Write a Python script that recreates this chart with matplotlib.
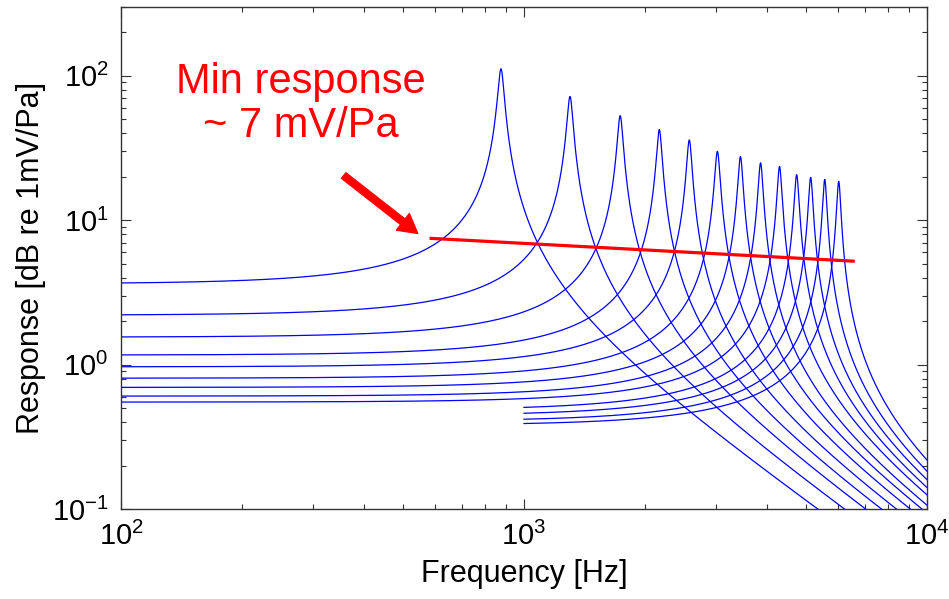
import numpy as np
import matplotlib
matplotlib.use('Agg')
import matplotlib.pyplot as plt

plt.rcParams['font.family'] = ['Liberation Sans', 'DejaVu Sans']
plt.rcParams['mathtext.fontset'] = 'custom'
plt.rcParams['mathtext.rm'] = 'Liberation Sans'
plt.rcParams['mathtext.it'] = 'Liberation Sans:italic'

# resonance frequency of each mode [Hz]
f_res = [877, 1301, 1733, 2167, 2572, 3020, 3445, 3865, 4307, 4750, 5146, 5576, 6040]
# flat low-frequency sensitivity [mV/Pa]
low_level = [3.63, 2.2, 1.55, 1.165, 0.965, 0.805, 0.695, 0.605, 0.55,
             0.483, 0.443, 0.405, 0.38]
# peak sensitivity [mV/Pa]
peak_level = [112, 72, 53, 42.5, 36, 30, 27.6, 25, 23.6, 20.7, 19.8, 19.2, 18.6]
# lowest frequency drawn for each curve [Hz]
f_start = [100] * 9 + [1000] * 4

# minimum response line
min_f = [583, 6620]
min_resp = [7.5, 5.2]

x_ticks = [1e2, 1e3, 1e4]
x_ticklabels = [r'$\mathregular{10^{2}}$', r'$\mathregular{10^{3}}$', r'$\mathregular{10^{4}}$']
y_ticks = [1e-1, 1e0, 1e1, 1e2]
y_ticklabels = [r'$\mathregular{10^{-1}}$', r'$\mathregular{10^{0}}$',
                r'$\mathregular{10^{1}}$', r'$\mathregular{10^{2}}$']

fig = plt.figure(figsize=(9.49, 5.99), dpi=100)
ax = fig.add_axes([0.1275, 0.1503, 0.8493, 0.838])

for f0, g, pk, fs in zip(f_res, low_level, peak_level, f_start):
    f = np.logspace(np.log10(fs), 4.05, 3000)
    r = f / f0
    q = pk / g
    h = g / np.sqrt((1 - r**2)**2 + (r / q)**2)
    ax.plot(f, h, color='#0000ff', linewidth=0.9)

ax.plot(min_f, min_resp, color='#ff0000', linewidth=2.3, solid_capstyle='butt')

ax.annotate('', xy=(545, 8.1), xytext=(357, 20.4),
            arrowprops=dict(arrowstyle='simple,head_length=0.85,head_width=0.95,tail_width=0.32',
                            color='#ff0000', mutation_scale=16, shrinkA=0, shrinkB=0))
ax.text(279, 64, 'Min response\n~ 7 mV/Pa', color='#ff0000', fontsize=30,
        ha='center', va='center', linespacing=1.15)

ax.set_xscale('log')
ax.set_yscale('log')
ax.set_xlim(1e2, 1e4)
ax.set_ylim(1e-1, 300)
ax.set_xticks(x_ticks)
ax.set_xticklabels(x_ticklabels)
ax.set_yticks(y_ticks)
ax.set_yticklabels(y_ticklabels)
ax.tick_params(which='both', direction='in', top=True, right=True, colors='#333333',
               labelcolor='black', labelsize=21)
ax.tick_params(which='major', length=7, width=0.8)
ax.tick_params(which='minor', length=3.5, width=0.8)
ax.tick_params(axis='x', pad=9)
ax.tick_params(axis='y', pad=9)
for sp in ax.spines.values():
    sp.set_color('#333333')
    sp.set_linewidth(1.0)

ax.set_xlabel('Frequency [Hz]', fontsize=22, labelpad=6)
ax.set_ylabel('Response [dB re 1mV/Pa]', fontsize=22, labelpad=4)

fig.savefig('out.png', dpi=100)
